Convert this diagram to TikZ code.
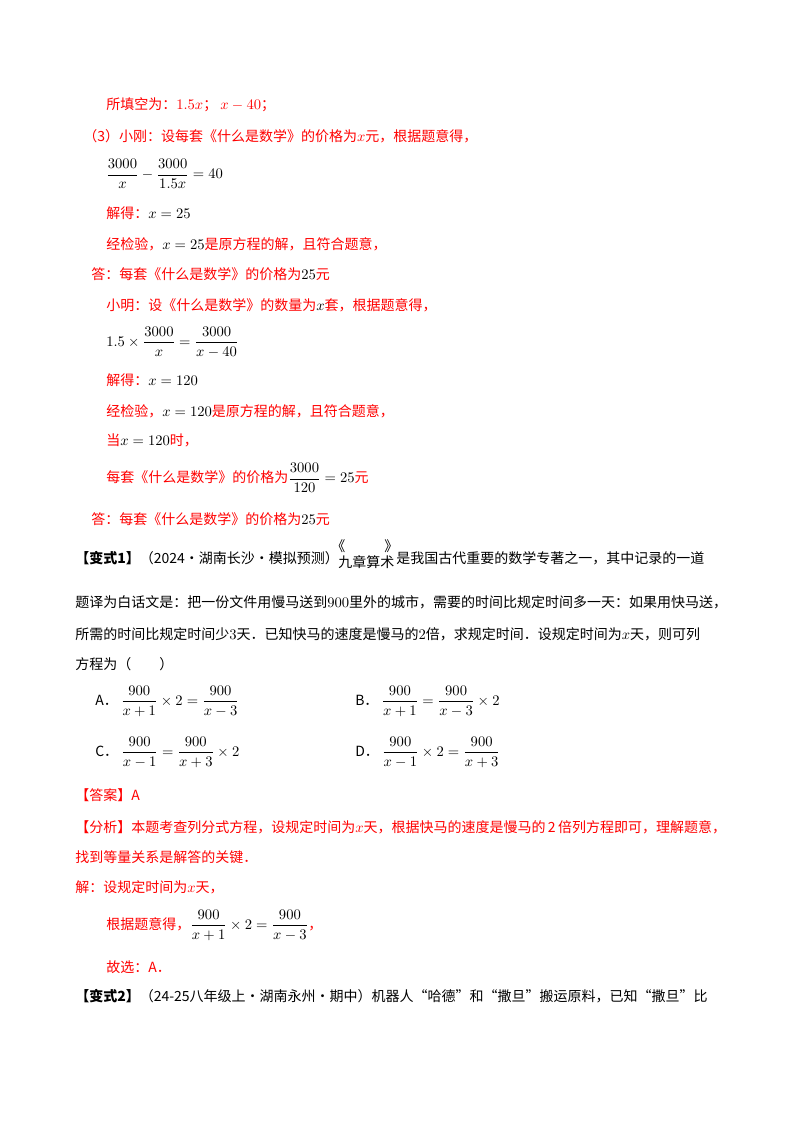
\documentclass[tikz,border=0pt]{standalone}
\usepackage{amsmath}
\usepackage{fontspec}
\setmainfont{Noto Sans CJK SC}
\definecolor{ansred}{RGB}{255,0,0}
\tikzset{t/.style={anchor=west,inner sep=0pt,font=\fontsize{10.5}{12}\selectfont},r/.style={t,text=ansred}}
\begin{document}
\begin{tikzpicture}[x=0.75pt,y=-0.75pt]
\useasboundingbox (0,0) rectangle (800,1132);
\node[r] (l1) at (106,105) {所填空为：$1.5x$； $x-40$；};
\node[r] (l2) at (83,136) {（3）小刚：设每套《什么是数学》的价格为$x$元，根据题意得，};
\node[t] (l3) at (106,174) {$\dfrac{3000}{x}-\dfrac{3000}{1.5x}=40$};
\node[r] (l4) at (106,213) {解得：\textcolor{black}{$x=25$}};
\node[r] (l5) at (106,244) {经检验，\textcolor{black}{$x=25$}是原方程的解，且符合题意，};
\node[r] (l6) at (91,274) {答：每套《什么是数学》的价格为\textcolor{black}{$25$}元};
\node[r] (l7) at (106,305) {小明：设《什么是数学》的数量为\textcolor{black}{$x$}套，根据题意得，};
\node[t] (l8) at (106,342) {$1.5\times\dfrac{3000}{x}=\dfrac{3000}{x-40}$};
\node[r] (l9) at (106,380) {解得：\textcolor{black}{$x=120$}};
\node[r] (l10) at (106,411) {经检验，\textcolor{black}{$x=120$}是原方程的解，且符合题意，};
\node[r] (l11) at (106,440) {当\textcolor{black}{$x=120$}时，};
\node[r] (l12) at (106,478) {每套《什么是数学》的价格为\textcolor{black}{$\dfrac{3000}{120}=25$}元};
\node[r] (l13) at (91,519) {答：每套《什么是数学》的价格为\textcolor{black}{$25$}元};
\node[t] (l14) at (75,558) {\textbf{【变式1】}（2024·湖南长沙·模拟预测）};
\node[t] (l14b) at (338,562) {九章算术};
\node[t] (l14c) at (396,558) {是我国古代重要的数学专著之一，其中记录的一道};
\node[t] (q1) at (331,546) {《};
\node[t] (q2) at (384,546) {》};
\node[t] (l15) at (75,602) {题译为白话文是：把一份文件用慢马送到$900$里外的城市，需要的时间比规定时间多一天：如果用快马送，};
\node[t] (l16) at (75,634) {所需的时间比规定时间少$3$天．已知快马的速度是慢马的$2$倍，求规定时间．设规定时间为$x$天，则可列};
\node[t] (l17) at (75,664) {方程为（\hspace{2em}）};
\node[t] (oa) at (95,701) {A．\ $\dfrac{900}{x+1}\times2=\dfrac{900}{x-3}$};
\node[t] (ob) at (355,701) {B．\ $\dfrac{900}{x+1}=\dfrac{900}{x-3}\times2$};
\node[t] (oc) at (95,752) {C．\ $\dfrac{900}{x-1}=\dfrac{900}{x+3}\times2$};
\node[t] (od) at (355,752) {D．\ $\dfrac{900}{x-1}\times2=\dfrac{900}{x+3}$};
\node[r] (l18) at (75,795) {【答案】A};
\node[r] (l19) at (75,827) {【分析】本题考查列分式方程，设规定时间为$x$天，根据快马的速度是慢马的\,2\,倍列方程即可，理解题意，};
\node[r] (l20) at (75,857) {找到等量关系是解答的关键．};
\node[r] (l21) at (75,887) {解：设规定时间为$x$天，};
\node[r] (l22) at (106,925) {根据题意得，\textcolor{black}{$\dfrac{900}{x+1}\times2=\dfrac{900}{x-3}$}，};
\node[r] (l23) at (106,967) {故选：A．};
\node[t] (l24) at (75,996) {\textbf{【变式2】}（24-25八年级上·湖南永州·期中）机器人“哈德”和“撒旦”搬运原料，已知“撒旦”比};
\end{tikzpicture}
\end{document}
